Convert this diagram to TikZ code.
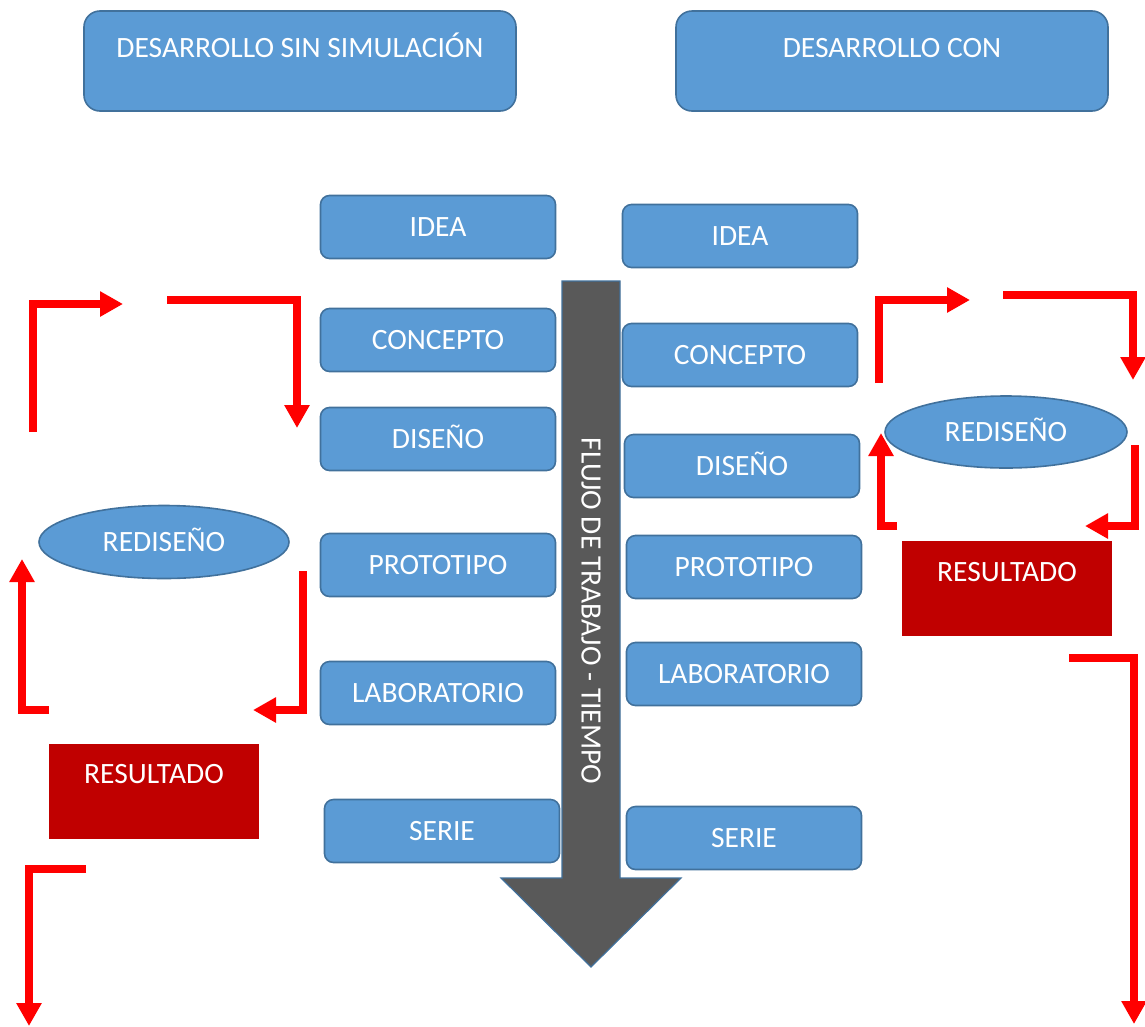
\documentclass[tikz,border=0pt]{standalone}
\usepackage{fontspec}
\setmainfont{Carlito}
\usetikzlibrary{arrows.meta,shapes.geometric}
\definecolor{boxblue}{HTML}{5B9BD5}
\definecolor{boxline}{HTML}{41719C}
\definecolor{resred}{HTML}{C00000}
\definecolor{flowgray}{HTML}{595959}

\begin{document}
\begin{tikzpicture}[x=1pt,y=-1pt,font=\fontsize{29.5}{34}\selectfont]
\tikzstyle{stage}=[draw=boxline,line width=1.6pt,fill=boxblue,rounded corners=9pt,text=white,minimum width=235pt,minimum height=63pt,inner sep=0pt,text height=19pt,text depth=0pt]
\tikzstyle{header}=[stage,rounded corners=16pt,minimum width=432pt,minimum height=100pt]
\tikzstyle{redesign}=[draw=boxline,line width=1.6pt,fill=boxblue,ellipse,text=white,inner sep=0pt,text height=19pt,text depth=0pt]
\tikzstyle{result}=[fill=resred,text=white,minimum width=210pt,minimum height=95pt,inner sep=0pt]
\tikzstyle{caption}=[text=white,anchor=base]
\tikzstyle{loop}=[draw=red,line width=8pt,-{Triangle[length=23pt,width=24pt]}]
\useasboundingbox (0,0) rectangle (1145,1026);

% titles
\node[header] (hdrL) at (300,61) {};
\node[header] (hdrR) at (892,61) {};
\node[caption] at (300,57) {DESARROLLO SIN SIMULACIÓN};
\node[caption] at (892,57) {DESARROLLO CON};

% time arrow
\draw[fill=flowgray,draw=boxline,line width=1.2pt] (562,281) -- (620,281) -- (620,878) -- (681,878)
  -- (591,967) -- (501,878) -- (562,878) -- cycle;
\node[text=white,rotate=-90] (flow) at (591,611) {FLUJO DE TRABAJO - TIEMPO};

% without simulation
\node[stage] (ideaL) at (438,227) {IDEA};
\node[stage] (concL) at (438,340) {CONCEPTO};
\node[stage] (diseL) at (438,439) {DISEÑO};
\node[stage] (protL) at (438,565) {PROTOTIPO};
\node[stage] (labL) at (438,693) {LABORATORIO};
\node[stage] (serieL) at (442,831) {SERIE};
\node[redesign,minimum width=250pt,minimum height=73pt] (redL) at (164,542) {REDISEÑO};
\node[result] (resL) at (154,791) {};
\node[caption] at (154,783) {RESULTADO};

% with simulation
\node[stage] (ideaR) at (740,236) {IDEA};
\node[stage] (concR) at (740,355) {CONCEPTO};
\node[stage] (diseR) at (742,466) {DISEÑO};
\node[stage] (protR) at (744,567) {PROTOTIPO};
\node[stage] (labR) at (744,674) {LABORATORIO};
\node[stage] (serieR) at (744,838) {SERIE};
\node[redesign,minimum width=242pt,minimum height=72pt] (redR) at (1006,432) {REDISEÑO};
\node[result] (resR) at (1007,588) {};
\node[caption] at (1007,581) {RESULTADO};

% loops left
\coordinate (a1) at (33,432);  \coordinate (a2) at (33,304);  \coordinate (a3) at (123,304);
\coordinate (b1) at (167,300); \coordinate (b2) at (297,300); \coordinate (b3) at (297,428);
\coordinate (c1) at (303,571); \coordinate (c2) at (303,710); \coordinate (c3) at (253,710);
\coordinate (d1) at (49,710);  \coordinate (d2) at (22,710);  \coordinate (d3) at (22,559);
\coordinate (e1) at (86,869);  \coordinate (e2) at (29,869);  \coordinate (e3) at (29,1026);
\draw[loop] (a1) -- (a2) -- (a3);
\draw[loop] (b1) -- (b2) -- (b3);
\draw[loop] (c1) -- (c2) -- (c3);
\draw[loop] (d1) -- (d2) -- (d3);
\draw[loop] (e1) -- (e2) -- (e3);

% loops right
\coordinate (f1) at (879,383);  \coordinate (f2) at (879,300);  \coordinate (f3) at (970,300);
\coordinate (g1) at (1003,295); \coordinate (g2) at (1133,295); \coordinate (g3) at (1133,380);
\coordinate (h1) at (1135,445); \coordinate (h2) at (1135,526); \coordinate (h3) at (1085,526);
\coordinate (k1) at (897,526);  \coordinate (k2) at (881,526);  \coordinate (k3) at (881,433);
\coordinate (m1) at (1069,658); \coordinate (m2) at (1134,658); \coordinate (m3) at (1134,1024);
\draw[loop] (f1) -- (f2) -- (f3);
\draw[loop] (g1) -- (g2) -- (g3);
\draw[loop] (h1) -- (h2) -- (h3);
\draw[loop] (k1) -- (k2) -- (k3);
\draw[loop] (m1) -- (m2) -- (m3);
\end{tikzpicture}
\end{document}
